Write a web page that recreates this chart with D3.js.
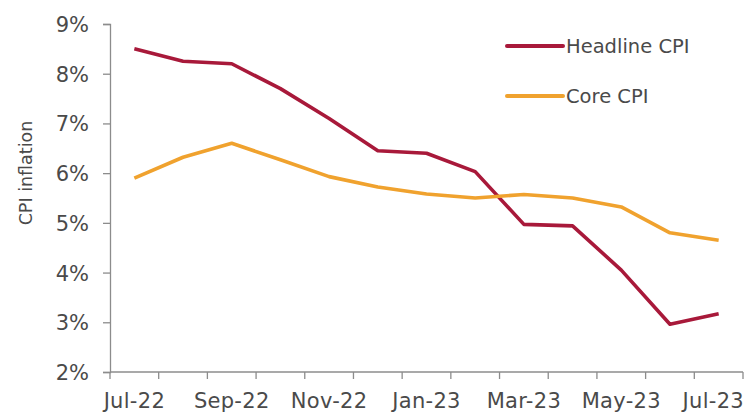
<!DOCTYPE html>
<html>
<head>
<meta charset="utf-8">
<script src="https://cdn.jsdelivr.net/npm/d3@7"></script>
<style>
  html, body { margin: 0; padding: 0; background: #fff; }
  svg { display: block; }
  text { font-family: "DejaVu Sans", sans-serif; fill: #4a4a4a; }
</style>
</head>
<body>
<svg id="chart" width="748" height="414"></svg>
<script>
const months = ["Jul-22","Aug-22","Sep-22","Oct-22","Nov-22","Dec-22","Jan-23","Feb-23","Mar-23","Apr-23","May-23","Jun-23","Jul-23"];
const tickLabels = ["Jul-22","Sep-22","Nov-22","Jan-23","Mar-23","May-23","Jul-23"];
const headline = [8.5, 8.25, 8.2, 7.7, 7.1, 6.45, 6.4, 6.03, 4.97, 4.94, 4.05, 2.96, 3.17];
const core = [5.9, 6.32, 6.6, 6.27, 5.93, 5.72, 5.58, 5.5, 5.57, 5.5, 5.32, 4.8, 4.65];
const yTicks = [2, 3, 4, 5, 6, 7, 8, 9];
const seriesNames = ["Headline CPI", "Core CPI"];
const seriesColors = ["#a8193a", "#f0a22e"];

const svg = d3.select("#chart");
const margin = {left: 110, right: 5, top: 24, bottom: 42};
const W = 748, H = 414;

const x = d3.scaleBand().domain(months).range([margin.left, W - margin.right]);
const y = d3.scaleLinear().domain([2, 9]).range([H - margin.bottom, margin.top]);

// Y axis
const yAxis = svg.append("g")
  .attr("transform", `translate(${margin.left},0)`)
  .call(d3.axisLeft(y).tickValues(yTicks).tickFormat(d => d + "%").tickSize(7).tickPadding(14));
yAxis.select(".domain").attr("stroke", "#8c8c8c").attr("stroke-width", 1.3);
yAxis.selectAll(".tick line").attr("stroke", "#8c8c8c").attr("stroke-width", 1.3);
yAxis.selectAll(".tick text").style("font-size", "21px").style("font-family", "DejaVu Sans, sans-serif")
  .attr("fill", "#4a4a4a").attr("dy", "0.36em");

// X axis with ticks at band boundaries
const xg = svg.append("g").attr("transform", `translate(0,${y(2)})`);
xg.append("line")
  .attr("x1", x.range()[0]).attr("x2", x.range()[1])
  .attr("stroke", "#8c8c8c").attr("stroke-width", 1.3);
const bounds = months.map(m => x(m)).concat([x(months[months.length - 1]) + x.bandwidth()]);
xg.selectAll(".xt").data(bounds).join("line")
  .attr("x1", d => d).attr("x2", d => d).attr("y1", 0).attr("y2", 7)
  .attr("stroke", "#8c8c8c").attr("stroke-width", 1.3);
const xl = xg.selectAll(".xl").data(tickLabels).join("text")
  .attr("x", d => x(d) + x.bandwidth() / 2)
  .attr("y", 35.5)
  .attr("text-anchor", "middle")
  .style("font-size", "21px")
  .style("letter-spacing", "0.3px")
  .text(d => d);
// keep labels inside the canvas
xl.each(function(d) {
  const w = this.getComputedTextLength();
  const cx = x(d) + x.bandwidth() / 2;
  const maxRight = W - 4;
  if (cx + w / 2 > maxRight) d3.select(this).attr("x", maxRight - w / 2);
});

// Y label
svg.append("text")
  .attr("transform", `translate(32,${(y(9) + y(2)) / 2 - 25}) rotate(-90)`)
  .attr("text-anchor", "middle")
  .style("font-size", "17.5px")
  .text("CPI inflation");

// Lines
const line = d3.line().x((d, i) => x(months[i]) + x.bandwidth() / 2).y(d => y(d));
[headline, core].forEach((s, k) => {
  svg.append("path").datum(s)
    .attr("fill", "none")
    .attr("stroke", seriesColors[k])
    .attr("stroke-width", 3.6)
    .attr("stroke-linejoin", "round")
    .attr("d", line);
});

// Legend
const lg = svg.append("g");
seriesNames.forEach((n, k) => {
  const ly = 46 + k * 50;
  lg.append("line").attr("x1", 507).attr("x2", 563).attr("y1", ly).attr("y2", ly)
    .attr("stroke", seriesColors[k]).attr("stroke-width", 4).attr("stroke-linecap", "round");
  lg.append("text").attr("x", 566).attr("y", ly).attr("dy", "0.35em")
    .style("font-size", "19.5px").text(n);
});
</script>
</body>
</html>
